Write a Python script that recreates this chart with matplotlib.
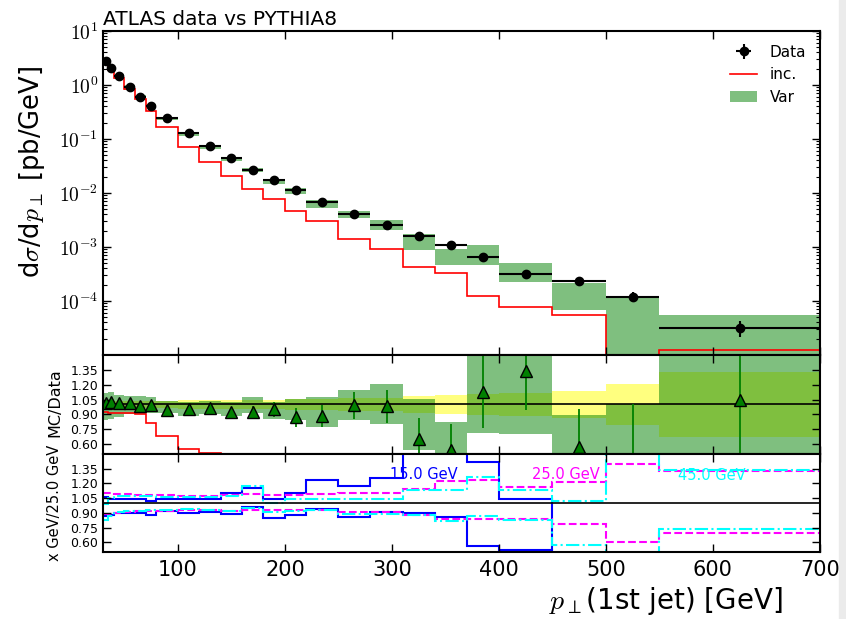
import numpy as np
import matplotlib
matplotlib.use("Agg")
import matplotlib.pyplot as plt
from matplotlib.patches import Rectangle
from matplotlib.ticker import FixedLocator, FuncFormatter, LogLocator, NullFormatter

plt.rcParams['mathtext.fontset'] = 'cm'
plt.rcParams['font.family'] = ['DejaVu Sans']

# bin edges of leading jet pT [GeV]
edges = [30, 35, 40, 50, 60, 70, 80, 100, 120, 140, 160, 180, 200, 220,
         250, 280, 310, 340, 370, 400, 450, 500, 550, 700]

# data (pb/GeV) and relative uncertainty
data = [2.8, 2.09, 1.47, 0.905, 0.608, 0.41, 0.249, 0.13, 0.074, 0.045,
        0.027, 0.0172, 0.01156, 0.00686, 0.00405, 0.00258, 0.00161, 0.0011,
        6.4e-4, 3.2e-4, 2.39e-4, 1.19e-4, 3.15e-5]
data_relerr = [0.04, 0.04, 0.04, 0.04, 0.04, 0.04, 0.04, 0.045, 0.045, 0.045,
               0.05, 0.05, 0.055, 0.06, 0.065, 0.07, 0.085, 0.10, 0.11, 0.115,
               0.14, 0.21, 0.33]

# inclusive prediction
inc = [2.6, 1.92, 1.34, 0.83, 0.55, 0.334, 0.169, 0.0715, 0.038, 0.0203,
       0.012, 0.00776, 0.00473, 0.0030, 0.00138, 9.0e-4, 4.3e-4, 3.26e-4,
       1.24e-4, 7.6e-5, 5.5e-5, 0.0, 1.24e-5]

# variation envelope (relative to data)
var_lo = [0.84, 0.85, 0.87, 0.90, 0.90, 0.91, 0.91, 0.88, 0.90, 0.88, 0.91,
          0.85, 0.84, 0.77, 0.84, 0.80, 0.54, 0.42, 0.71, 0.70, 0.29, 0.0, 0.0]
var_hi = [1.12, 1.13, 1.10, 1.09, 1.09, 1.08, 1.04, 1.03, 1.04, 1.03, 1.08,
          1.03, 1.06, 1.08, 1.145, 1.21, 1.06, 0.82, 1.67, 1.60, 0.89, 1.0, 1.73]

# MC/Data central points of variation
var_ratio = [1.02, 1.03, 1.02, 1.01, 0.98, 0.99, 0.94, 0.95, 0.96, 0.92, 0.92,
             0.95, 0.87, 0.88, 0.99, 0.98, 0.65, 0.54, 1.13, 1.34, 0.57, 0.35, 1.05]
var_ratio_err = [0.01, 0.01, 0.01, 0.01, 0.01, 0.01, 0.01, 0.015, 0.015, 0.03,
                 0.06, 0.08, 0.095, 0.11, 0.14, 0.17, 0.21, 0.26, 0.37, 0.40,
                 0.38, 0.65, 0.8]

# cut variations: upper and lower ratio curves
blue_up = [1.06, 1.045, 1.045, 1.045, 1.045, 1.017, 1.045, 1.045, 1.045, 1.106,
           1.153, 1.045, 1.10, 1.23, 1.17, 1.25, 1.6, 1.6, 1.42, 1.045, 0, 0, 0]
blue_dn = [0.867, 0.88, 0.90, 0.90, 0.90, 0.88, 0.918, 0.90, 0.908, 0.89, 0.96,
           0.85, 0.875, 0.94, 0.857, 0.908, 0.90, 0.86, 0.56, 0.52, 0, 0, 0]
mag_up = [1.10, 1.10, 1.09, 1.09, 1.085, 1.08, 1.08, 1.075, 1.075, 1.08, 1.09,
          1.08, 1.085, 1.09, 1.10, 1.10, 1.147, 1.22, 1.23, 1.163, 1.21, 1.40, 1.33]
mag_dn = [0.89, 0.89, 0.90, 0.91, 0.915, 0.92, 0.92, 0.925, 0.925, 0.92, 0.93,
          0.925, 0.925, 0.925, 0.91, 0.91, 0.88, 0.84, 0.84, 0.84, 0.79, 0.60, 0.69]
cyan_up = [0.99, 1.05, 1.07, 1.07, 1.07, 1.07, 1.06, 1.06, 1.06, 1.07, 1.17,
           1.00, 1.04, 1.045, 1.045, 1.045, 1.137, 1.13, 1.265, 1.13, 1.02, 1.7, 1.34]
cyan_dn = [0.83, 0.87, 0.91, 0.92, 0.92, 0.93, 0.93, 0.94, 0.93, 0.92, 0.95,
           0.91, 0.92, 0.93, 0.89, 0.89, 0.88, 0.82, 0.87, 0.83, 0.57, 0.3, 0.73]

edges_a = np.array(edges, dtype=float)
centers = 0.5 * (edges_a[1:] + edges_a[:-1])
halfw = 0.5 * (edges_a[1:] - edges_a[:-1])
data_a = np.array(data)
relerr = np.array(data_relerr)

fig = plt.figure(figsize=(8.46, 6.19), dpi=100)
# light strip at the right edge, as in the screenshot
fig.patches.append(Rectangle((0.992, 0), 0.008, 1, transform=fig.transFigure,
                             color='#ebebeb', zorder=-1))
L, W = 0.1217, 0.8475
ax1 = fig.add_axes([L, 0.4265, W, 0.5234])
ax2 = fig.add_axes([L, 0.2666, W, 0.1599], sharex=ax1)
ax3 = fig.add_axes([L, 0.1082, W, 0.1584], sharex=ax1)

# ---- main panel
ax1.stairs(data_a * np.array(var_hi), edges_a, baseline=data_a * np.array(var_lo),
           fill=True, color='green', alpha=0.5, lw=0, label='Var')
ax1.stairs(inc, edges_a, baseline=None, color='red', lw=1.2, label='inc.')
ax1.errorbar(centers, data_a, xerr=halfw, yerr=data_a * relerr, fmt='o',
             color='black', ms=6, elinewidth=1.5, capsize=0, label='Data')
ax1.set_yscale('log')
ax1.set_ylim(1e-5, 10)
ax1.set_xlim(30, 700)
ax1.yaxis.set_major_locator(FixedLocator([1e-4, 1e-3, 1e-2, 1e-1, 1, 10]))
ax1.yaxis.set_major_formatter(FuncFormatter(lambda v, p: r'$10^{%d}$' % round(np.log10(v))))
ax1.yaxis.set_minor_locator(LogLocator(base=10, subs=np.arange(2, 10), numticks=20))
ax1.yaxis.set_minor_formatter(NullFormatter())
ax1.set_ylabel(r'd$\sigma$/d$p_\perp$ [pb/GeV]', fontsize=18.5)
ax1.yaxis.set_label_coords(-0.078, 0.565)
ax1.set_title('ATLAS data vs PYTHIA8', loc='left', fontsize=14.5, pad=4)
handles, labels = ax1.get_legend_handles_labels()
order = [labels.index('Data'), labels.index('inc.'), labels.index('Var')]
ax1.legend([handles[i] for i in order], [labels[i] for i in order],
           loc='upper right', frameon=False, fontsize=11, handlelength=1.8)

# ---- MC/Data panel
ax2.stairs(1 + relerr, edges_a, baseline=1 - relerr, fill=True, color='yellow', alpha=0.5, lw=0)
ax2.stairs(var_hi, edges_a, baseline=var_lo, fill=True, color='green', alpha=0.5, lw=0)
ax2.axhline(1.0, color='black', lw=1.2)
ax2.stairs(np.array(inc) / data_a, edges_a, baseline=None, color='red', lw=1.2)
ax2.errorbar(centers, var_ratio, yerr=var_ratio_err, fmt='^', mfc='green', mec='black',
             ecolor='green', ms=8, elinewidth=1.3, capsize=0)
ax2.set_ylim(0.5, 1.5)
ax2.set_ylabel('MC/Data', fontsize=11.5)
ax2.yaxis.set_label_coords(-0.057, 0.515)

# ---- cut variation panel
ax3.axhline(1.0, color='black', lw=1.2)
for up, dn, col, ls in [(blue_up, blue_dn, 'blue', '-'),
                        (mag_up, mag_dn, 'magenta', '--'),
                        (cyan_up, cyan_dn, 'cyan', '-.')]:
    ax3.stairs(up, edges_a, baseline=None, color=col, ls=ls, lw=1.5)
    ax3.stairs(dn, edges_a, baseline=None, color=col, ls=ls, lw=1.5)
ax3.text(298, 1.29, '15.0 GeV', color='blue', fontsize=10.5, va='center')
ax3.text(431, 1.29, '25.0 GeV', color='magenta', fontsize=10.5, va='center')
ax3.text(567, 1.28, '45.0 GeV', color='cyan', fontsize=10.5, va='center')
ax3.set_ylim(0.5, 1.5)
ax3.set_ylabel('x GeV/25.0 GeV', fontsize=10.5)
ax3.yaxis.set_label_coords(-0.057, 0.5)
ax3.set_xlabel(r'$p_\perp$(1st jet) [GeV]', fontsize=20, ha='right')
ax3.xaxis.set_label_coords(0.948, -0.337)
ax3.xaxis.label.set_va('top')

for ax in (ax2, ax3):
    ax.yaxis.set_major_locator(FixedLocator([0.6, 0.75, 0.9, 1.05, 1.2, 1.35]))
    ax.yaxis.set_major_formatter(FuncFormatter(lambda v, p: '%.2f' % v))
    ax.tick_params(axis='y', labelsize=9)

ax1.xaxis.set_major_locator(FixedLocator([100, 200, 300, 400, 500, 600, 700]))
for ax in (ax1, ax2, ax3):
    ax.tick_params(which='both', direction='in', top=True, right=True)
    ax.tick_params(which='major', length=6, width=1)
    ax.tick_params(which='minor', length=3, width=0.8)
    for s in ax.spines.values():
        s.set_linewidth(1.5)
for ax in (ax1, ax2):
    plt.setp(ax.get_xticklabels(), visible=False)
ax1.tick_params(axis='y', labelsize=14)
ax3.tick_params(axis='x', labelsize=15, pad=6)

fig.savefig('out.png', dpi=100)
